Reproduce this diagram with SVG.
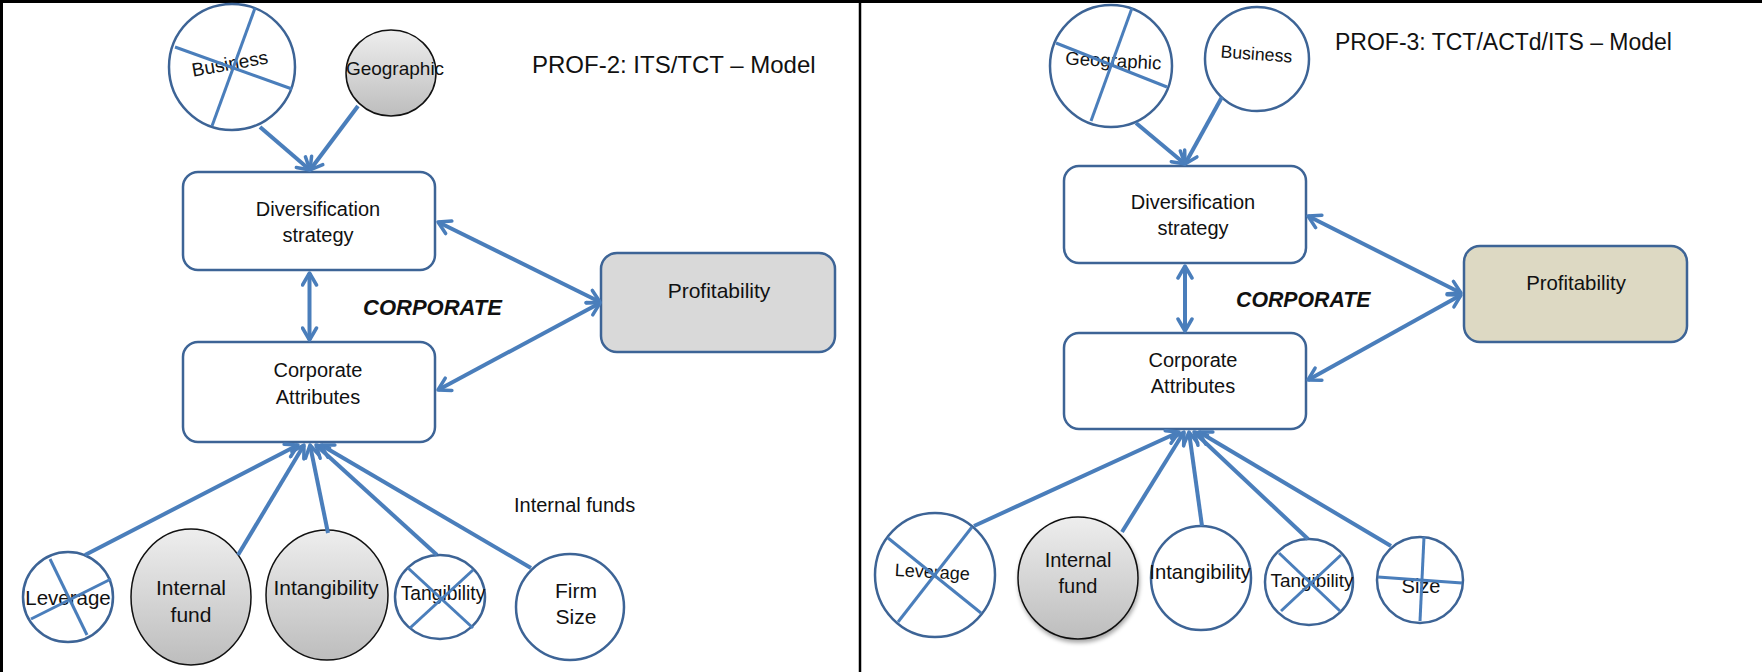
<svg xmlns="http://www.w3.org/2000/svg" width="1762" height="672" viewBox="0 0 1762 672">
<style>
text{font-family:"Liberation Sans",Arial,sans-serif;fill:#111;}
.box{fill:#fff;stroke:#3d6496;stroke-width:2.5;}
.ring{fill:#fff;stroke:#3d6496;stroke-width:2.5;}
.grey{fill:url(#g);stroke:#111;stroke-width:1.5;}
.cross{stroke:#4a7ebb;stroke-width:3;fill:none;}
.con{stroke:#4a7ebb;stroke-width:4;fill:none;}
.one{marker-end:url(#ah);}
.two{marker-end:url(#ah);marker-start:url(#ah);}
.frame{stroke:#000;fill:none;}
.m{text-anchor:middle;}
.corp{font-weight:bold;font-style:italic;}
</style>
<defs>
<linearGradient id="g" x1="0" y1="0" x2="0" y2="1">
<stop offset="0" stop-color="#eeeeee"/>
<stop offset="1" stop-color="#bdbdbd"/>
</linearGradient>
<filter id="sh" x="-20%" y="-20%" width="140%" height="140%">
<feDropShadow dx="1" dy="3" stdDeviation="2" flood-color="#000" flood-opacity="0.35"/>
</filter>
<marker id="ah" viewBox="0 0 18 18" refX="15" refY="9" markerWidth="18" markerHeight="18" markerUnits="userSpaceOnUse" orient="auto-start-reverse">
<path d="M3,2 L15,9 L3,16" fill="none" stroke="#4a7ebb" stroke-width="3.5" stroke-linecap="round" stroke-linejoin="round"/>
</marker>
</defs>
<rect width="1762" height="672" fill="#fff"/>
<g id="frame">
<line class="frame" x1="0" y1="1.5" x2="1762" y2="1.5" stroke-width="3"/>
<line class="frame" x1="1.5" y1="0" x2="1.5" y2="672" stroke-width="3"/>
<line class="frame" x1="860" y1="0" x2="860" y2="672" stroke-width="2.5"/>
</g>

<!-- LEFT PANEL -->
<g id="title-left"><text x="532" y="73" font-size="24">PROF-2: ITS/TCT – Model</text></g>
<g id="l-business">
<circle class="ring" cx="232" cy="67" r="63"/>
<text class="m" x="231" y="70" font-size="19" transform="rotate(-10 231 70)">Business</text>
<line class="cross" x1="175" y1="47" x2="292" y2="89"/>
<line class="cross" x1="255" y1="8" x2="212" y2="126"/>
</g>
<g id="l-geographic">
<ellipse class="grey" cx="391" cy="73" rx="45" ry="43"/>
<text class="m" x="395" y="75" font-size="19">Geographic</text>
</g>
<g id="l-div">
<rect class="box" x="183" y="172" width="252" height="98" rx="15"/>
<text class="m" x="318" y="216" font-size="20">Diversification</text>
<text class="m" x="318" y="242" font-size="20">strategy</text>
</g>
<g id="l-corpattr">
<rect class="box" x="183" y="342" width="252" height="100" rx="15"/>
<text class="m" x="318" y="377" font-size="20">Corporate</text>
<text class="m" x="318" y="404" font-size="20">Attributes</text>
</g>
<g id="l-corporate-label"><text class="corp" x="363" y="315" font-size="22">CORPORATE</text></g>
<g id="l-prof">
<rect x="601" y="253" width="234" height="99" rx="16" fill="#d9d9d9" stroke="#3d6496" stroke-width="2.5"/>
<text class="m" x="719" y="298" font-size="21">Profitability</text>
</g>
<g id="l-internal-funds-label"><text x="514" y="512" font-size="20">Internal funds</text></g>
<g id="l-leverage">
<ellipse class="ring" cx="68" cy="597" rx="45" ry="45"/>
<text class="m" x="68" y="605" font-size="20.5">Leverage</text>
<line class="cross" x1="50" y1="559" x2="87" y2="635"/>
<line class="cross" x1="31" y1="619" x2="111" y2="579"/>
</g>
<g id="l-internal-fund">
<ellipse class="grey" cx="191" cy="597" rx="60" ry="68"/>
<text class="m" x="191" y="595" font-size="21">Internal</text>
<text class="m" x="191" y="622" font-size="21">fund</text>
</g>
<g id="l-intangibility">
<ellipse class="grey" cx="327" cy="595" rx="61" ry="65"/>
<text class="m" x="326" y="595" font-size="21">Intangibility</text>
</g>
<g id="l-tangibility">
<ellipse class="ring" cx="440" cy="597" rx="45" ry="42"/>
<text class="m" x="443" y="600" font-size="19.3">Tangibility</text>
<line class="cross" x1="408" y1="568" x2="473" y2="628"/>
<line class="cross" x1="410" y1="628" x2="473" y2="570"/>
</g>
<g id="l-firmsize">
<ellipse class="ring" cx="570" cy="607" rx="54" ry="53"/>
<text class="m" x="576" y="598" font-size="21">Firm</text>
<text class="m" x="576" y="624" font-size="21">Size</text>
</g>

<!-- RIGHT PANEL -->
<g id="title-right"><text x="1335" y="50" font-size="23">PROF-3: TCT/ACTd/ITS – Model</text></g>
<g id="r-geographic">
<circle class="ring" cx="1111" cy="66" r="61"/>
<text class="m" x="1113" y="67" font-size="18.6" transform="rotate(3 1113 67)">Geographic</text>
<line class="cross" x1="1056" y1="43" x2="1167" y2="87"/>
<line class="cross" x1="1132" y1="8" x2="1091" y2="121"/>
</g>
<g id="r-business">
<circle class="ring" cx="1257" cy="59" r="52"/>
<text class="m" x="1256" y="60" font-size="17.7" transform="rotate(4 1256 60)">Business</text>
</g>
<g id="r-div">
<rect class="box" x="1064" y="166" width="242" height="97" rx="15"/>
<text class="m" x="1193" y="209" font-size="20">Diversification</text>
<text class="m" x="1193" y="235" font-size="20">strategy</text>
</g>
<g id="r-corpattr">
<rect class="box" x="1064" y="333" width="242" height="96" rx="15"/>
<text class="m" x="1193" y="367" font-size="20">Corporate</text>
<text class="m" x="1193" y="393" font-size="20">Attributes</text>
</g>
<g id="r-corporate-label"><text class="corp" x="1236" y="307" font-size="21.3">CORPORATE</text></g>
<g id="r-prof">
<rect x="1464" y="246" width="223" height="96" rx="16" fill="#ddd9c3" stroke="#3d6496" stroke-width="2.5"/>
<text class="m" x="1576" y="290" font-size="20.4">Profitability</text>
</g>
<g id="r-leverage">
<ellipse class="ring" cx="935" cy="575" rx="60" ry="62"/>
<text class="m" x="932" y="578" font-size="18" transform="rotate(3 932 578)">Leverage</text>
<line class="cross" x1="888" y1="538" x2="981" y2="613"/>
<line class="cross" x1="898" y1="622" x2="972" y2="527"/>
</g>
<g id="r-internal-fund">
<ellipse class="grey" cx="1078" cy="578" rx="60" ry="61" filter="url(#sh)"/>
<text class="m" x="1078" y="567" font-size="20">Internal</text>
<text class="m" x="1078" y="593" font-size="20">fund</text>
</g>
<g id="r-intangibility">
<ellipse class="ring" cx="1201" cy="578" rx="50" ry="52"/>
<text class="m" x="1200" y="579" font-size="20.3">Intangibility</text>
</g>
<g id="r-tangibility">
<ellipse class="ring" cx="1309" cy="582" rx="44" ry="43"/>
<text class="m" x="1312" y="587" font-size="18.9">Tangibility</text>
<line class="cross" x1="1279" y1="553" x2="1340" y2="611"/>
<line class="cross" x1="1281" y1="611" x2="1341" y2="555"/>
</g>
<g id="r-size">
<ellipse class="ring" cx="1420" cy="580" rx="43" ry="43"/>
<text class="m" x="1421" y="593" font-size="20">Size</text>
<line class="cross" x1="1424" y1="537" x2="1420" y2="621"/>
<line class="cross" x1="1378" y1="577" x2="1462" y2="583"/>
</g>

<g id="connectors">
<line class="con one" x1="260" y1="127" x2="310" y2="170"/>
<line class="con one" x1="358" y1="106" x2="310" y2="170"/>
<line class="con two" x1="309.5" y1="273" x2="309.5" y2="340"/>
<line class="con two" x1="438" y1="222" x2="600" y2="302"/>
<line class="con two" x1="438" y1="390" x2="600" y2="303"/>
<line class="con one" x1="85" y1="555" x2="298" y2="445"/>
<line class="con one" x1="238" y1="555" x2="304" y2="445"/>
<line class="con one" x1="328" y1="533" x2="310" y2="445"/>
<line class="con one" x1="437" y1="555" x2="316" y2="445"/>
<line class="con one" x1="531" y1="568" x2="321" y2="445"/>

<line class="con one" x1="1136" y1="123" x2="1185" y2="164"/>
<line class="con one" x1="1222" y1="97" x2="1185" y2="164"/>
<line class="con two" x1="1185" y1="266" x2="1185" y2="331"/>
<line class="con two" x1="1308" y1="216" x2="1461" y2="293"/>
<line class="con two" x1="1308" y1="380" x2="1461" y2="295"/>
<line class="con one" x1="974" y1="526" x2="1179" y2="432"/>
<line class="con one" x1="1122" y1="532" x2="1184" y2="432"/>
<line class="con one" x1="1202" y1="526" x2="1189" y2="432"/>
<line class="con one" x1="1308" y1="539" x2="1194" y2="432"/>
<line class="con one" x1="1391" y1="546" x2="1199" y2="432"/>
</g>
</svg>
